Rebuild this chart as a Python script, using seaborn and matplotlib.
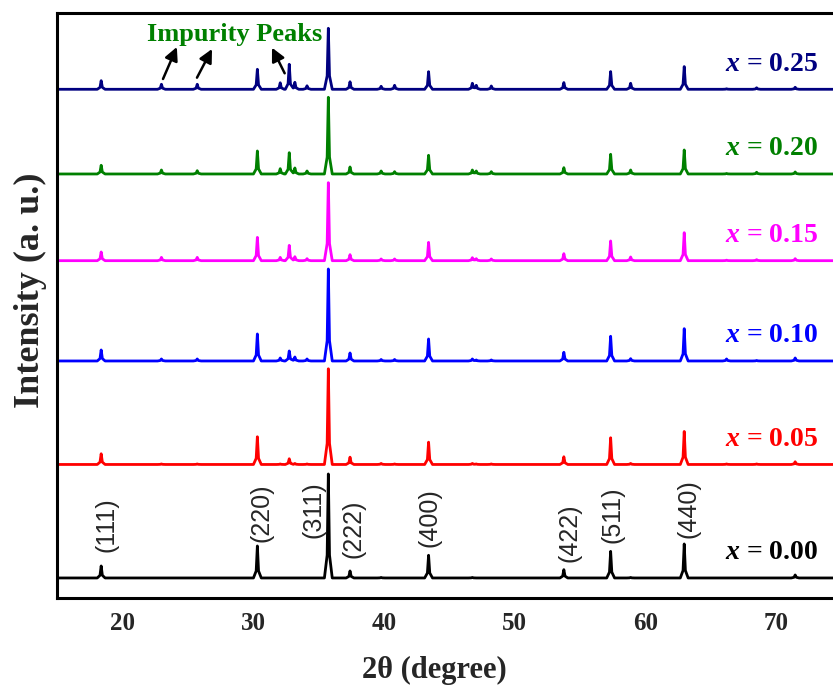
import numpy as np
import pandas as pd
import matplotlib
matplotlib.use("Agg")
import matplotlib.pyplot as plt
import seaborn as sns

# Peak positions (2theta)
peak_pos = [18.35, 22.96, 25.70, 30.30, 32.05, 32.74, 33.17, 34.10, 35.73, 37.39,
            39.77, 40.80, 43.40, 46.75, 47.05, 48.20, 53.75, 57.33, 58.86, 62.96,
            66.20, 68.50, 71.45]

# Peak heights (a.u.) per sample, same order as peak_pos
h_000 = [12, 0, 0, 32, 0, 0, 0, 0, 104, 7, 0.5, 0, 22.7, 0.5, 0, 0, 8.3, 26.6, 0.5, 34, 0, 0, 3]
h_005 = [10.7, 0.5, 0.5, 27.7, 0.5, 5.7, 1, 0.5, 95.7, 7.3, 1, 0.5, 22.3, 1, 0.5, 0.5, 7.7, 26.7, 1, 33, 0.5, 0.5, 2.7]
h_010 = [11, 2, 2, 27, 3, 10, 4, 2, 92, 8, 1.5, 1.5, 22, 2, 1, 1, 8.7, 24.7, 2.3, 32.3, 2, 0.5, 3]
h_015 = [8.7, 3.3, 3.3, 23.3, 3.3, 15.3, 4, 2, 78, 6, 1.7, 1.7, 18.3, 3, 2, 1.7, 7, 19.7, 3.7, 28, 0.5, 1, 2]
h_020 = [8.7, 4, 3.3, 23, 5.3, 21.3, 6, 3, 76.7, 7, 3, 2.3, 18.7, 4, 3, 2.3, 6.3, 19.7, 4, 24, 0.5, 1.7, 2]
h_025 = [8.6, 5, 5, 20, 6.5, 25, 7, 3.5, 61, 7.5, 3, 4, 17.6, 6, 4, 3.3, 6.7, 17.7, 6, 22.7, 0.5, 1.5, 2]

samples = ["x = 0.00", "x = 0.05", "x = 0.10", "x = 0.15", "x = 0.20", "x = 0.25"]
heights = [h_000, h_005, h_010, h_015, h_020, h_025]
shifts = [20, 133.5, 237, 337.3, 424, 508.7]
colors = ["#000000", "#ff0000", "#0000ff", "#ff00ff", "#008000", "#000080"]

hkl = ["(111)", "(220)", "(311)", "(222)", "(400)", "(422)", "(511)", "(440)"]
hkl_x = [18.77, 30.58, 34.58, 37.64, 43.50, 54.22, 57.48, 63.27]
hkl_y = [46.3, 56.3, 60.0, 40.0, 51.3, 36.3, 55.0, 60.0]

# simple spike profile for every peak (offsets in degrees, fraction of height)
prof_dx = np.array([-0.30, -0.09, 0.0, 0.09, 0.30])
prof_f = np.array([0.0, 0.22, 1.0, 0.22, 0.0])

rows = []
for name, hs, sh in zip(samples, heights, shifts):
    knots = np.concatenate([[15.0, 75.0]] + [p + prof_dx for p in peak_pos])
    xs = np.unique(knots)
    ys = np.zeros_like(xs)
    for p, h in zip(peak_pos, hs):
        ys += h * np.interp(xs, p + prof_dx, prof_f, left=0, right=0)
    rows.append(pd.DataFrame({"two_theta": xs, "intensity": ys + sh, "sample": name}))
df = pd.concat(rows, ignore_index=True)

sns.set_style("white")
plt.rcParams["font.family"] = ["Liberation Serif", "DejaVu Serif"]
plt.rcParams["mathtext.fontset"] = "custom"
plt.rcParams["mathtext.it"] = "Liberation Serif:italic:bold"
plt.rcParams["mathtext.rm"] = "Liberation Serif:bold"

fig = plt.figure(figsize=(8.33, 6.87), dpi=100)
ax = fig.add_axes([0.0689, 0.1296, 0.9414, 0.8515])

sns.lineplot(data=df, x="two_theta", y="intensity", hue="sample",
             palette=dict(zip(samples, colors)), estimator=None,
             linewidth=2.0, legend=False, ax=ax)

ax.set_xlim(15, 75)
ax.set_ylim(0, 585)
ax.set_xticks([20, 30, 40, 50, 60, 70])
ax.set_yticks([])
ax.tick_params(axis="x", direction="in", length=6, width=2, labelsize=18, pad=10)
for lab in ax.get_xticklabels():
    lab.set_fontweight("bold")
for sp in ax.spines.values():
    sp.set_linewidth(2.2)
    sp.set_color("black")

ax.set_xlabel("")
ax.set_ylabel("")
fig.text(0.521, 0.024, "2θ (degree)", fontsize=22, fontweight="bold",
         ha="center", va="center")
fig.text(0.036, 0.578, "Intensity (a. u.)", rotation=90, fontsize=26,
         fontweight="bold", ha="center", va="center")

# sample labels
for name, sh, c in zip(samples, shifts, colors):
    ax.text(73.2, sh + 25, "$x$ = " + name.split("= ")[1], color=c, fontsize=20,
            fontweight="bold", ha="right", va="center")

# hkl labels
for lab, xv, yv in zip(hkl, hkl_x, hkl_y):
    ax.text(xv, yv, lab, rotation=90, ha="center", va="bottom", fontsize=18,
            family=["Liberation Sans", "DejaVu Sans"])

# impurity annotation
ax.text(28.59, 563, "Impurity Peaks", color="#008000", fontsize=19,
        fontweight="bold", ha="center", va="center")
arrow_props = dict(arrowstyle="-|>", color="black", lw=1.8, mutation_scale=20,
                   shrinkA=0, shrinkB=0)
for tail, head in [((23.08, 519), (24.14, 551)),
                   ((25.68, 520.3), (26.83, 549)),
                   ((32.39, 524.7), (31.42, 550.3))]:
    ax.annotate("", xy=head, xytext=tail, arrowprops=arrow_props)

fig.savefig("out.png", dpi=100)
